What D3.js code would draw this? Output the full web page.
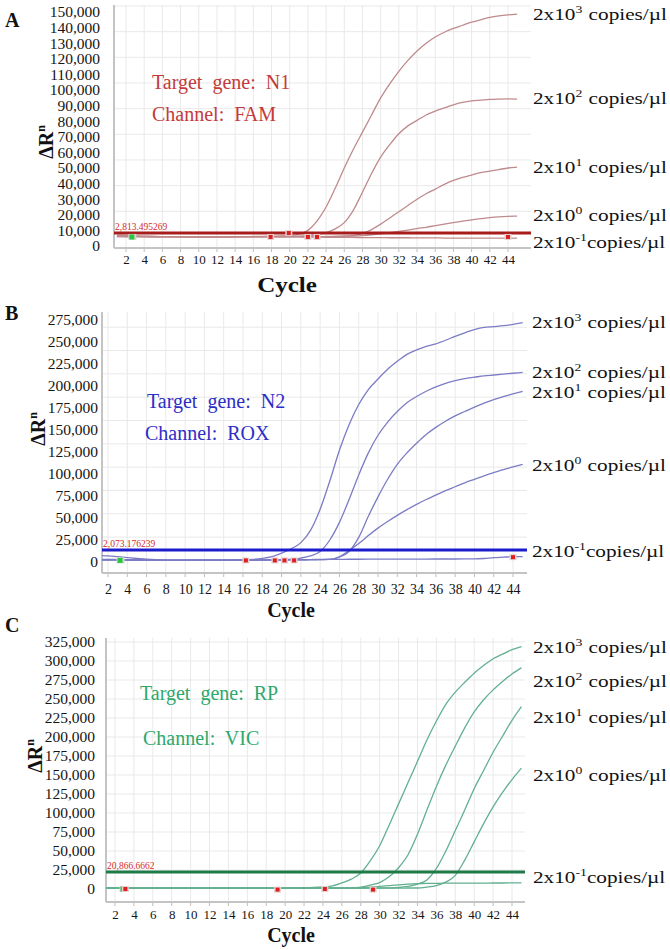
<!DOCTYPE html>
<html>
<head>
<meta charset="utf-8">
<script src="https://cdn.jsdelivr.net/npm/d3@7"></script>
<style>
  body { margin: 0; background: #fff; }
  svg { display: block; }
  text { font-family: "Liberation Serif", "Times New Roman", serif; }
</style>
</head>
<body>
<svg id="chart" width="670" height="950"></svg>
<script>
// ---------------- DATA ----------------
const cycles = d3.range(1, 46); // cycles 1..45
const xTickLabels = [2,4,6,8,10,12,14,16,18,20,22,24,26,28,30,32,34,36,38,40,42,44];
const concExponents = ["3", "2", "1", "0", "-1"];
const panelLetters = ["A", "B", "C"];
const genes = ["N1", "N2", "RP"];
const channels = ["FAM", "ROX", "VIC"];
const thresholdLabels = ["2,813.495269", "2,073.176239", "20,866.6662"];
const thresholdValues = [8300, 13600, 22400];

const yTicksA = [0,10000,20000,30000,40000,50000,60000,70000,80000,90000,100000,110000,120000,130000,140000,150000];
const yTicksB = [0,25000,50000,75000,100000,125000,150000,175000,200000,225000,250000,275000];
const yTicksC = [0,25000,50000,75000,100000,125000,150000,175000,200000,225000,250000,275000,300000,325000];

// Panel A (FAM, N1) — ΔRn per cycle
const A_e3 = [7000,6800,6500,6300,6200,6000,6000,6000,5900,5900,5900,5900,6000,6000,6000,6100,6200,6300,6500,6800,7500,10000,16000,25000,37000,50000,62000,73000,84000,95000,104000,112000,119000,125000,130000,134000,137000,139500,141500,143500,145000,146500,147500,148200,148700];
const A_e2 = [6500,6400,6300,6200,6100,6000,6000,5900,5900,5800,5800,5800,5900,5900,6000,6000,6000,6000,6100,6200,6300,6600,7200,8500,11000,15000,23000,34500,46500,57000,65000,72000,77000,80500,84000,86500,88500,90500,92000,93000,93500,94000,94200,94300,94200];
const A_e1 = [6200,6100,6000,6000,5900,5900,5800,5800,5800,5800,5800,5900,5900,6000,6000,6000,6000,6000,6000,6000,6000,6000,6000,6100,6200,6400,6800,8000,10500,14000,18000,22000,26000,30000,33500,36500,39500,42000,44000,45500,47000,48000,49000,50000,50500];
const A_e0 = [6000,6000,6000,5900,5900,5800,5800,5800,5800,5800,5800,5800,5900,5900,5900,6000,6000,6000,6000,6000,6000,6000,6000,6000,6100,6200,6400,6700,7200,7800,8500,9300,10200,11200,12000,13000,14000,15000,16000,16800,17500,18200,18700,19000,19200];
const A_em1 = [6000,6000,6000,6000,6000,6000,5900,5900,5800,5800,5800,5800,5800,5900,5900,5900,5900,5900,5800,5800,5800,5700,5700,5600,5600,5500,5500,5400,5400,5400,5300,5300,5300,5200,5200,5200,5100,5100,5100,5000,5000,5000,5000,5000,5000];

// Panel B (ROX, N2)
const B_e3 = [7500,7000,6000,5000,4000,3200,2600,2200,2000,2000,2000,2000,2000,2000,2200,2500,3000,4000,6000,10000,15000,22000,36000,60000,92000,127000,156000,179000,196000,208000,219000,228000,236000,241000,245000,248000,252000,256500,260500,264000,266500,267500,268500,270000,272000];
const B_e2 = [3000,3000,2800,2600,2500,2400,2300,2200,2200,2200,2200,2200,2200,2200,2300,2300,2400,2500,2600,2800,3200,4500,7000,12000,25000,45000,71000,99000,124000,144000,159000,171000,181000,188000,194000,199000,203000,206000,208500,210000,211500,212500,213500,214500,215500];
const B_e1 = [2500,2500,2400,2300,2200,2100,2000,1900,1900,1900,2000,2000,2000,2000,2100,2100,2200,2200,2300,2300,2400,2500,2600,2700,2900,5500,12000,28000,52000,74000,94000,111000,124000,135000,145000,153000,160000,166000,171000,176000,180500,184500,188000,191000,194000];
const B_e0 = [2800,2700,2600,2500,2400,2300,2200,2100,2000,2000,2000,2000,2100,2100,2200,2200,2300,2300,2400,2400,2500,2500,2600,2700,2900,6000,13000,21000,30000,38500,46000,53000,59500,65500,71000,76000,81000,85500,90000,94000,98000,101500,105000,108000,111000];
const B_em1 = [2200,2200,2100,2100,2000,2000,1900,1900,1900,1900,2000,2000,2000,2100,2100,2200,2200,2300,2400,2500,2600,2700,2800,2900,3000,3000,3100,3100,3200,3200,3200,3300,3300,3300,3300,3400,3400,3400,3500,3500,4000,5000,5500,6000,6000];

// Panel C (VIC, RP)
const C_e3 = [1500,1400,1300,1200,1100,1000,1000,1000,1000,1000,1000,1000,1000,1000,1000,1100,1100,1200,1200,1300,1400,1600,2000,2700,4000,8000,13000,21000,37000,57000,84000,112000,140000,168000,196000,221000,243000,259000,272000,284000,294000,303000,309000,315000,319000];
const C_e2 = [1300,1200,1200,1100,1100,1000,1000,1000,1000,1000,1000,1000,1000,1000,1000,1000,1000,1000,1100,1100,1100,1200,1200,1300,1300,1400,1600,2500,5000,8500,16000,28000,45000,72000,104000,135000,163000,188000,212000,233000,249000,262000,273000,283000,291000];
const C_e1 = [1200,1200,1100,1100,1000,1000,1000,1000,1000,1000,1000,1000,1000,1000,1000,1000,1000,1000,1000,1000,1000,1000,1100,1100,1100,1200,1200,1200,1300,1300,1400,2000,3500,6500,12000,27000,50000,77000,104000,132000,156000,180000,201000,222000,240000];
const C_e0 = [1100,1100,1000,1000,1000,1000,1000,1000,1000,1000,1000,1000,1000,1000,1000,1000,1000,1000,1000,1000,1000,1000,1000,1000,1100,1100,1100,1100,1200,1200,1200,1200,1300,1300,2500,4500,9000,18000,38000,62000,86000,108000,127000,144000,159000];
const C_em1 = [1000,1000,1000,1000,1000,1000,1000,1000,1000,1000,1000,1000,1000,1000,1000,1000,1000,1000,1000,1000,1000,1000,1000,1000,1000,1000,1300,1800,2500,3500,4500,5500,6300,6900,7300,7500,7600,7700,7700,7800,7800,7900,7900,8000,8000];

// Ct markers (cycle, ΔRn)
const redMarkersA = [[17.9,5800],[19.9,8300],[22.0,5800],[23.0,5800],[44.0,5800]];
const redMarkersB = [[16.3,1800],[19.3,1800],[20.3,1800],[21.3,1800],[44.0,5500]];
const redMarkersC = [[3.1,0],[19.2,-800],[24.2,0],[29.3,-800]];
const greenMarkers = [[2.7,5800],[3.3,1800],[2.9,0]];

// ---------------- LAYOUT / STYLE ----------------
const panels = [
  { series:[A_e3,A_e2,A_e1,A_e0,A_em1], yTicks:yTicksA, yMax:150000, red:redMarkersA,
    l:114, r:531, t:5, b:248, xr:[126,508], yr:[246,12],
    gridStart:5800, gridStep:16450, yPad:14, yFont:15.5, xPad:7, xFont:13,
    curve:"#bf8a8c", thr:"#a81c1c", txt:"#c23b3b",
    letterY:27, titleX:53, titleY:142, cycleX:287, cycleY:292, cycleScale:1.25,
    geneXY:[152,89], chanXY:[152,121], labelX:533, labelY:[20,104,173,221,248] },
  { series:[B_e3,B_e2,B_e1,B_e0,B_em1], yTicks:yTicksB, yMax:275000, red:redMarkersB,
    l:102, r:527, t:312, b:573, xr:[108,513], yr:[562,320],
    gridStart:1800, gridStep:26500, yPad:4, yFont:15.5, xPad:11, xFont:14,
    curve:"#7c7cc6", thr:"#1c1ccc", txt:"#2e2ec6",
    letterY:320, titleX:45, titleY:429, cycleX:291, cycleY:617, cycleScale:1,
    geneXY:[147,408], chanXY:[145,440], labelX:532, labelY:[328,378,398,471,557] },
  { series:[C_e3,C_e2,C_e1,C_e0,C_em1], yTicks:yTicksC, yMax:325000, red:redMarkersC,
    l:106, r:525, t:638, b:902, xr:[115,512], yr:[889,642],
    gridStart:0, gridStep:25000, yPad:11, yFont:15.5, xPad:8, xFont:13,
    curve:"#62b08f", thr:"#1e7a46", txt:"#2ea86c",
    letterY:632, titleX:42, titleY:756, cycleX:291, cycleY:942, cycleScale:1,
    geneXY:[140,700], chanXY:[143,745], labelX:533, labelY:[653,687,723,781,883] }
];

const svg = d3.select("#chart");
svg.append("rect").attr("width",670).attr("height",950).attr("fill","#fff");
const defs = svg.append("defs");

panels.forEach((P, pi) => {
  const x = d3.scaleLinear().domain([2,44]).range(P.xr);
  const y = d3.scaleLinear().domain([0,P.yMax]).range(P.yr);
  const g = svg.append("g");

  defs.append("clipPath").attr("id","clip"+pi)
    .append("rect").attr("x",P.l).attr("y",P.t-2).attr("width",P.r-P.l).attr("height",P.b-P.t+2);

  // grid
  const grid = g.append("g").attr("stroke","#e9e9e9").attr("stroke-width",1);
  grid.selectAll("line.v").data(xTickLabels).join("line")
    .attr("x1",d=>x(d)).attr("x2",d=>x(d)).attr("y1",P.t).attr("y2",P.b);
  const hVals = d3.range(P.gridStart + P.gridStep, P.yMax*1.1, P.gridStep).filter(v => y(v) >= P.t);
  grid.selectAll("line.h").data(hVals).join("line")
    .attr("x1",P.l).attr("x2",P.r).attr("y1",d=>y(d)).attr("y2",d=>y(d));

  // axis frame lines
  g.append("line").attr("x1",P.l).attr("x2",P.l).attr("y1",P.t).attr("y2",P.b)
    .attr("stroke","#c4c4c4").attr("stroke-width",2);
  g.append("line").attr("x1",P.l).attr("x2",P.r).attr("y1",P.b).attr("y2",P.b)
    .attr("stroke","#c4c4c4").attr("stroke-width",2);
  // small tick marks under bottom axis
  g.append("g").selectAll("line").data(xTickLabels).join("line")
    .attr("x1",d=>x(d)).attr("x2",d=>x(d)).attr("y1",P.b+1).attr("y2",P.b+4)
    .attr("stroke","#bdbdbd").attr("stroke-width",1);

  // y axis labels
  const ya = g.append("g").attr("transform",`translate(${P.l},0)`)
    .call(d3.axisLeft(y).tickValues(P.yTicks).tickSize(0).tickPadding(P.yPad).tickFormat(d3.format(",")));
  ya.select(".domain").remove();
  ya.attr("font-family","'Liberation Serif', serif").attr("font-size",P.yFont);
  ya.selectAll("text").attr("fill","#151515");

  // x axis labels
  const xa = g.append("g").attr("transform",`translate(0,${P.b})`)
    .call(d3.axisBottom(x).tickValues(xTickLabels).tickSize(0).tickPadding(P.xPad));
  xa.select(".domain").remove();
  xa.attr("font-family","'Liberation Serif', serif").attr("font-size",P.xFont);
  xa.selectAll("text").attr("fill","#151515");

  // curves
  const line = d3.line().x((d,i)=>x(cycles[i])).y(d=>y(d)).curve(d3.curveMonotoneX);
  g.append("g").attr("clip-path",`url(#clip${pi})`)
    .selectAll("path").data(P.series).join("path")
    .attr("d",line).attr("fill","none").attr("stroke",P.curve).attr("stroke-width",1.3);

  // threshold
  g.append("line").attr("x1",P.l).attr("x2",P.r)
    .attr("y1",y(thresholdValues[pi])).attr("y2",y(thresholdValues[pi]))
    .attr("stroke",P.thr).attr("stroke-width",3);
  g.append("text").attr("x",P.l+1).attr("y",y(thresholdValues[pi])-3)
    .attr("font-size",9.5).attr("fill","#d42b2b").text(thresholdLabels[pi]);

  // markers
  const gm = greenMarkers[pi];
  g.append("rect").attr("x",x(gm[0])-4).attr("y",y(gm[1])-3).attr("width",8).attr("height",6).attr("fill","#d6d6d6");
  g.append("rect").attr("x",x(gm[0])-3).attr("y",y(gm[1])-2.5).attr("width",5).attr("height",5).attr("fill","#27c93a");
  g.append("g").selectAll("g").data(P.red).join("g").each(function(d){
    const s = d3.select(this);
    s.append("rect").attr("x",x(d[0])-3.5).attr("y",y(d[1])-3).attr("width",7).attr("height",6).attr("fill","#e3d0d0");
    s.append("rect").attr("x",x(d[0])-2).attr("y",y(d[1])-2).attr("width",4).attr("height",4).attr("fill","#e01e1e");
  });

  // panel letter
  svg.append("text").attr("x",5).attr("y",P.letterY).attr("font-size",20).attr("font-weight","bold")
    .attr("fill","#111").text(panelLetters[pi]);

  // y title
  const yt = svg.append("text").attr("transform",`translate(${P.titleX},${P.titleY}) rotate(-90)`)
    .attr("text-anchor","middle").attr("font-size",20).attr("font-weight","bold").attr("fill","#111");
  yt.append("tspan").text("ΔR");
  yt.append("tspan").attr("font-size",12).attr("dy",-8).text("n");

  // x title
  svg.append("text").attr("transform",`translate(${P.cycleX},${P.cycleY}) scale(${P.cycleScale},1)`)
    .attr("text-anchor","middle").attr("font-size",20).attr("font-weight","bold").attr("fill","#111").text("Cycle");

  // annotation
  svg.append("text").attr("x",P.geneXY[0]).attr("y",P.geneXY[1]).attr("font-size",20)
    .attr("fill",P.txt).style("white-space","pre").text("Target  gene:  " + genes[pi]);
  svg.append("text").attr("x",P.chanXY[0]).attr("y",P.chanXY[1]).attr("font-size",20)
    .attr("fill",P.txt).style("white-space","pre").text("Channel:  " + channels[pi]);

  // concentration labels
  concExponents.forEach((e, i) => {
    const t = svg.append("text").attr("transform",`translate(${P.labelX},${P.labelY[i]}) scale(1.25,1)`)
      .attr("font-size",17).attr("fill","#111");
    t.append("tspan").text("2x10");
    t.append("tspan").attr("font-size",11).attr("dy",-7).text(e);
    t.append("tspan").attr("dy",7).attr("dx", e === "-1" ? 0 : 5).text("copies/µl");
  });
});
</script>
</body>
</html>
